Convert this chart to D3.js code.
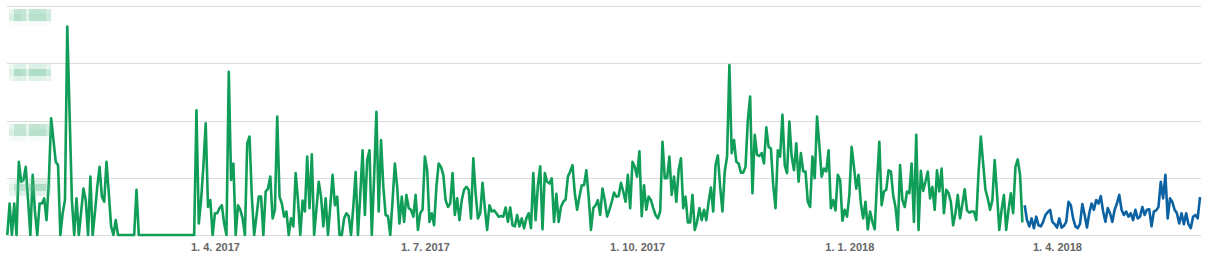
<!DOCTYPE html>
<html>
<head>
<meta charset="utf-8">
<script src="https://cdn.jsdelivr.net/npm/d3@7"></script>
<style>
  body { margin: 0; background: #fff; }
  svg { display: block; }
  .tick text { font-family: Arial, "Liberation Sans", sans-serif; }
</style>
</head>
<body>
<svg id="chart"></svg>
<script>
// daily values, 1. 1. 2017 - 16. 3. 2018 (green) and 17. 3. 2018 - 2. 6. 2018 (blue)
var startDate = new Date(Date.UTC(2017, 0, 1));

var greenValues = [
  0,55,0,55,0,128,93,96,119,61,
  0,105,40,0,55,55,64,26,93,204,
  166,128,122,0,38,61,364,212,61,0,
  64,0,40,81,61,0,102,0,40,84,
  119,67,58,128,73,15,0,26,0,0,
  0,0,0,0,0,0,79,0,0,0,
  0,0,0,0,0,0,0,0,0,0,
  0,0,0,0,0,0,0,0,0,0,
  0,0,218,20,61,120,195,49,61,0,
  38,38,47,52,20,0,285,96,125,0,
  52,44,29,0,160,172,67,0,32,67,
  67,0,76,81,102,29,44,207,67,55,
  32,41,0,29,15,108,61,0,60,41,
  137,47,141,0,45,93,67,15,64,0,
  50,105,52,67,0,0,29,38,33,0,
  50,110,0,70,148,35,131,148,0,100,
  215,41,166,84,35,33,0,60,125,84,
  20,67,23,70,47,44,32,70,9,38,
  44,137,113,23,38,17,84,125,119,105,
  61,49,55,108,35,64,26,61,79,84,
  79,29,134,73,29,38,91,47,9,52,
  41,43,38,32,33,32,48,23,48,17,
  15,35,15,29,12,29,38,12,108,26,
  87,120,10,108,93,90,99,23,72,23,
  49,58,62,102,111,122,73,44,67,87,
  87,113,67,9,47,52,61,35,81,61,
  32,44,58,74,67,68,91,76,58,105,
  47,128,119,102,146,33,87,44,67,61,
  47,35,29,41,163,99,99,137,70,102,
  58,113,134,47,67,22,22,70,9,23,
  47,26,44,26,58,83,41,122,139,84,
  41,111,137,297,143,166,128,125,109,109,
  119,201,242,73,175,140,138,143,125,188,
  154,151,87,47,148,137,210,122,108,198,
  137,113,160,93,143,111,111,58,49,137,
  99,207,157,102,116,111,148,47,61,43,
  105,96,25,44,32,70,154,119,81,105,
  55,29,58,10,41,23,10,93,163,52,
  76,79,113,111,70,49,9,122,61,49,
  76,73,125,23,175,9,112,77,93,111,
  64,84,44,113,76,116,38,79,73,58,
  17,38,70,29,54,80,43,39,41,41,
  26,108,172,125,79,64,44,61,131,73,
  9,44,70,9,44,73,38,119,132,105,
  22
];

var blueValues = [
  52,26,15,29,12,32,17,15,23,35,
  40,44,23,19,13,29,13,16,23,58,
  52,29,15,12,20,54,35,13,38,55,
  44,61,55,68,41,23,47,38,23,44,
  55,70,44,35,41,32,38,26,44,29,
  32,49,35,44,45,15,41,43,49,93,
  64,105,29,64,58,44,38,20,38,19,
  38,19,12,32,35,29,66
];

var yTicks = [0, 100, 200, 300, 400];
var yTickLabels = ["", "10 000", "20 000", "30 000", "40 000"];

var xTickDates = [
  new Date(Date.UTC(2017, 3, 1)),
  new Date(Date.UTC(2017, 6, 1)),
  new Date(Date.UTC(2017, 9, 1)),
  new Date(Date.UTC(2018, 0, 1)),
  new Date(Date.UTC(2018, 3, 1))
];
var xTickLabels = ["1. 4. 2017", "1. 7. 2017", "1. 10. 2017", "1. 1. 2018", "1. 4. 2018"];

var width = 1210, height = 261;

var greenData = greenValues.map(function(v, i) {
  return { date: d3.utcDay.offset(startDate, i), value: v };
});
var blueData = blueValues.map(function(v, i) {
  return { date: d3.utcDay.offset(startDate, greenValues.length + i), value: v };
});
var lastDate = blueData[blueData.length - 1].date;

var svg = d3.select("#chart")
  .attr("width", width)
  .attr("height", height);

var x = d3.scaleUtc()
  .domain([startDate, lastDate])
  .range([7.3, 1200]);

var y = d3.scaleLinear()
  .domain([0, 400])
  .range([235, 6]);

// gridlines
var grid = svg.append("g")
  .attr("transform", "translate(7,0)")
  .call(d3.axisLeft(y).tickValues(yTicks).tickSize(-1194).tickFormat(""));
grid.select(".domain").remove();
grid.selectAll("line").attr("stroke", "#dcdcdc").attr("shape-rendering", "crispEdges");

// x axis labels
var xAxis = svg.append("g")
  .attr("transform", "translate(0,236)")
  .call(d3.axisBottom(x).tickValues(xTickDates).tickSize(0)
    .tickFormat(function(d, i) { return xTickLabels[i]; }));
xAxis.select(".domain").remove();
xAxis.selectAll("text")
  .attr("dy", "12px")
  .attr("fill", "#666")
  .attr("font-size", "11px")
  .attr("font-weight", "bold");

var line = d3.line()
  .x(function(d) { return x(d.date); })
  .y(function(d) { return y(d.value); });

svg.append("path")
  .datum(greenData)
  .attr("fill", "none")
  .attr("stroke", "#0f9d58")
  .attr("stroke-width", 2.6)
  .attr("stroke-linejoin", "round")
  .attr("d", line);

svg.append("path")
  .datum(blueData)
  .attr("fill", "none")
  .attr("stroke", "#0b61a2")
  .attr("stroke-width", 2.6)
  .attr("stroke-linejoin", "round")
  .attr("d", line);

// y labels are obscured in the original, so pixelate them
var defs = svg.append("defs");
var f = defs.append("filter").attr("id", "pix")
  .attr("filterUnits", "userSpaceOnUse")
  .attr("x", 0).attr("y", 0).attr("width", 80).attr("height", 240);
f.append("feGaussianBlur").attr("in", "SourceGraphic").attr("stdDeviation", 2).attr("result", "b");
f.append("feFlood").attr("x", 2).attr("y", 2).attr("width", 1).attr("height", 1).attr("flood-color", "#000");
f.append("feComposite").attr("width", 5).attr("height", 5);
f.append("feTile").attr("result", "t");
f.append("feComposite").attr("in", "b").attr("in2", "t").attr("operator", "in");
f.append("feMorphology").attr("operator", "dilate").attr("radius", 2.5);

svg.append("g")
  .attr("filter", "url(#pix)")
  .selectAll("text")
  .data(yTicks.slice(1))
  .enter()
  .append("text")
  .attr("x", 12)
  .attr("y", function(d) { return y(d) + 14; })
  .attr("font-family", "Arial, 'Liberation Sans', sans-serif")
  .attr("font-size", "12px")
  .attr("font-weight", "bold")
  .attr("fill", "#5fbb8d")
  .text(function(d, i) { return yTickLabels[i + 1]; });
</script>
</body>
</html>
